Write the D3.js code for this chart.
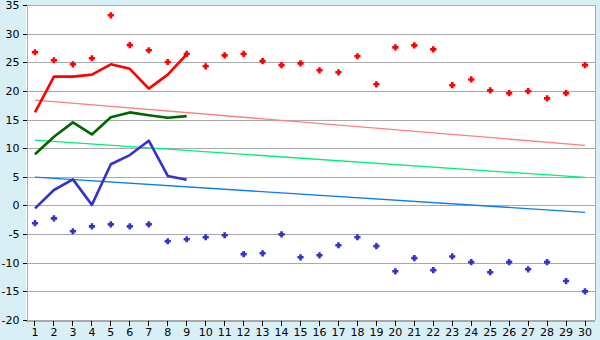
<!DOCTYPE html>
<html><head><meta charset="utf-8">
<script src="https://cdn.jsdelivr.net/npm/d3@7"></script>
<style>
html,body{margin:0;padding:0;background:#d9eff6;}
svg{display:block;}
text{font-family:"DejaVu Sans",Verdana,sans-serif;font-size:11px;fill:#000;}
</style></head><body>
<svg id="c" width="600" height="340"></svg>
<script>
const categories = d3.range(1, 31);
const redPoints = [26.75,25.35,24.65,25.7,33.2,28.0,27.1,25.05,26.45,24.3,26.2,26.45,25.2,24.5,24.8,23.6,23.25,26.05,21.15,27.6,27.95,27.25,21.0,22.0,20.1,19.6,19.95,18.7,19.6,24.5];
const bluePoints = [-3.1,-2.25,-4.5,-3.65,-3.3,-3.65,-3.3,-6.25,-5.9,-5.55,-5.2,-8.5,-8.35,-5.05,-9.05,-8.7,-6.95,-5.55,-7.1,-11.5,-9.2,-11.3,-8.9,-9.9,-11.65,-9.9,-11.15,-9.9,-13.2,-15.0];
const redLine = [16.25,22.5,22.5,22.85,24.65,23.85,20.4,22.85,26.4];
const greenLine = [8.95,12.0,14.5,12.4,15.4,16.25,15.75,15.3,15.6];
const blueLine = [-0.5,2.7,4.55,0.1,7.2,8.8,11.3,5.15,4.5];
const redTrend = [18.4,10.5];
const greenTrend = [11.4,4.9];
const blueTrend = [4.95,-1.2];
const yTicks = [-20,-15,-10,-5,0,5,10,15,20,25,30,35];

const svg = d3.select("#c");
const L = 26, R = 595, T = 5, B = 320;
const x = d3.scaleBand().domain(categories).range([L - 0.5, R - 0.5]);
const cx = d => x(d) + x.bandwidth() / 2;
const y = d3.scaleLinear().domain([-20, 35]).range([B, T]);

svg.append("rect").attr("x", L).attr("y", T).attr("width", R - L).attr("height", B - T).attr("fill", "#fff");

// gridlines
svg.append("g").selectAll("line").data(yTicks).join("line")
  .attr("x1", L).attr("x2", R)
  .attr("y1", d => Math.round(y(d)) + 0.5).attr("y2", d => Math.round(y(d)) + 0.5)
  .attr("stroke", "#aaa").attr("shape-rendering", "crispEdges");
// right border
svg.append("line").attr("x1", R + 0.5).attr("x2", R + 0.5).attr("y1", T).attr("y2", B)
  .attr("stroke", "#aaa").attr("shape-rendering", "crispEdges");

// y axis
const yAxis = d3.axisLeft(y).tickValues(yTicks).tickSize(4).tickPadding(3).tickFormat(d3.format("d"));
const gy = svg.append("g").attr("transform", `translate(${L + 0.5},0)`).call(yAxis);
gy.select(".domain").attr("stroke", "#aaa").attr("shape-rendering", "crispEdges");
gy.selectAll(".tick line").attr("stroke", "#000").attr("shape-rendering", "crispEdges");
gy.selectAll("text").style("font-size", "11px").text(d => String(d).replace("\u2212", "-"));

// x axis
const xAxis = d3.axisBottom(x).tickSize(5).tickPadding(3).tickSizeOuter(0);
const gx = svg.append("g").attr("transform", `translate(0,${B + 0.5})`).call(xAxis);
gx.select(".domain").attr("stroke", "#aaa").attr("shape-rendering", "crispEdges");
gx.selectAll(".tick line").attr("stroke", "#000").attr("shape-rendering", "crispEdges");
gx.selectAll("text").style("font-size", "11px");

// trend lines
function trend(vals, color) {
  svg.append("line")
    .attr("x1", cx(categories[0])).attr("x2", cx(categories[categories.length - 1]))
    .attr("y1", y(vals[0])).attr("y2", y(vals[1]))
    .attr("stroke", color).attr("stroke-width", 1.3);
}
trend(redTrend, "#ff8080");
trend(greenTrend, "#00ee77");
trend(blueTrend, "#0a7cf0");

// lines
const line = d3.line().x((d, i) => cx(categories[i])).y(d => y(d));
function drawLine(vals, color) {
  svg.append("path").datum(vals).attr("d", line)
    .attr("fill", "none").attr("stroke", color).attr("stroke-width", 2.6)
    .attr("stroke-linejoin", "round");
}
drawLine(redLine, "#ff0000");
drawLine(greenLine, "#006600");
drawLine(blueLine, "#3333cc");

// markers: chunky plus
const a = 1.3, b = 3.1;
const plusPath = `M${-a},${-b}H${a}V${-a}H${b}V${a}H${a}V${b}H${-a}V${a}H${-b}V${-a}H${-a}Z`;
function drawPoints(vals, color) {
  svg.append("g").selectAll("path").data(vals).join("path")
    .attr("d", plusPath)
    .attr("transform", (d, i) => `translate(${cx(categories[i])},${y(d)})`)
    .attr("fill", color);
}
drawPoints(redPoints, "#ff0000");
drawPoints(bluePoints, "#3333cc");
</script>
</body></html>
